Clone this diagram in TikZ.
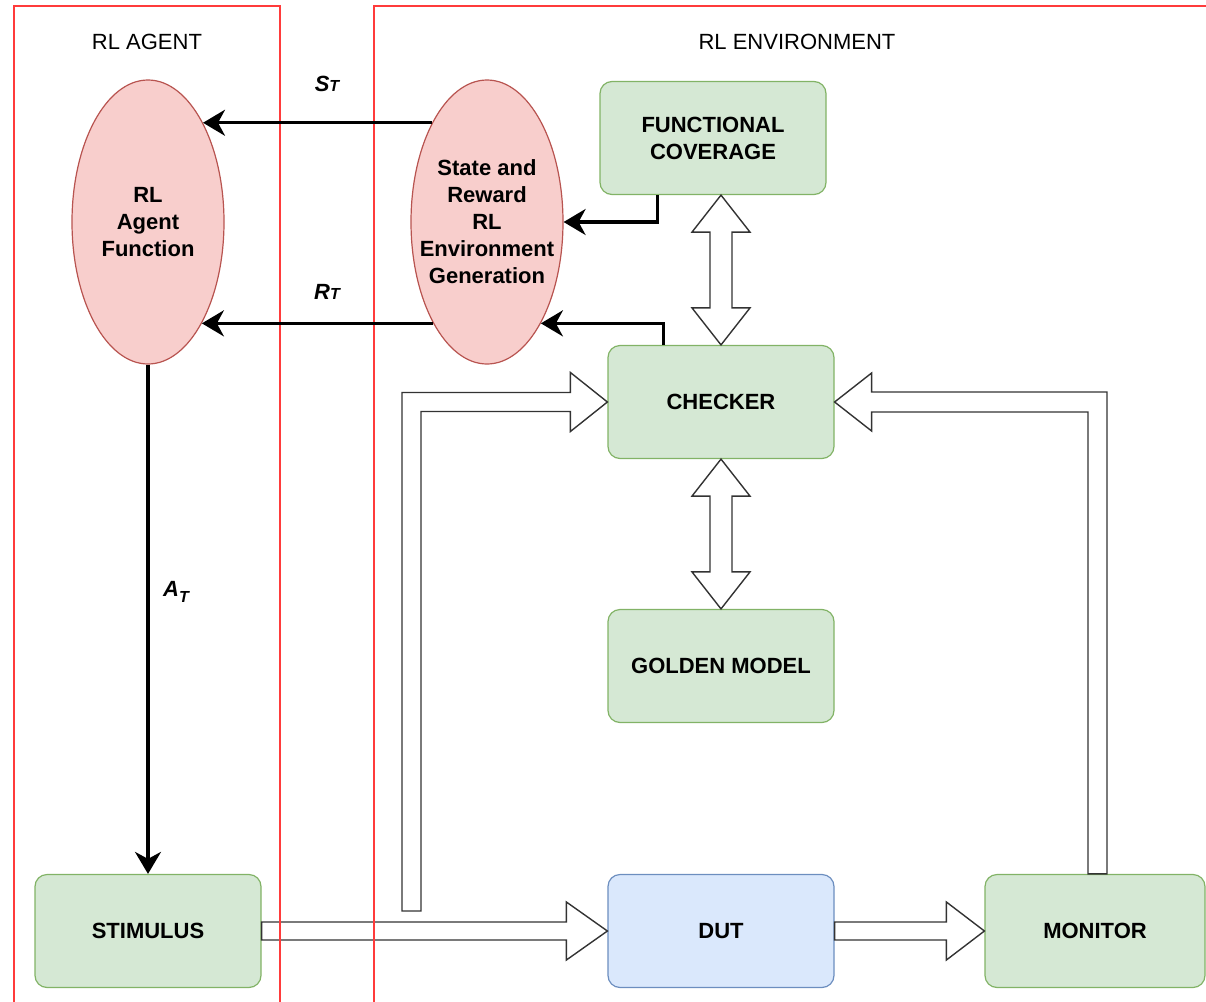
\documentclass[tikz,border=0pt]{standalone}
\usepackage{fontspec}
\setmainfont{Liberation Sans}
\usepackage{xcolor}
\usepackage{tikz}
\usetikzlibrary{calc,shapes.geometric,arrows.meta}
\definecolor{frame}{HTML}{FF3B3B}
\definecolor{okfill}{HTML}{D5E8D4}
\definecolor{okline}{HTML}{82B366}
\definecolor{dutfill}{HTML}{DAE8FC}
\definecolor{dutline}{HTML}{6C8EBF}
\definecolor{rlfill}{HTML}{F8CECC}
\definecolor{rlline}{HTML}{B85450}
\definecolor{pipeline}{HTML}{333333}

\begin{document}
\begin{tikzpicture}[x=0.5pt, y=-0.5pt,
  block/.style={draw=okline, fill=okfill, rounded corners=6pt, line width=0.6pt,
    minimum width=113pt, minimum height=56.5pt, align=center,
    font=\fontsize{11}{13.5}\selectfont\bfseries},
  dutbox/.style={draw=dutline, fill=dutfill},
  rlnode/.style={ellipse, draw=rlline, fill=rlfill, line width=0.6pt,
    minimum width=76pt, minimum height=142pt, inner sep=0pt},
  rltext/.style={align=center, font=\fontsize{11}{13.5}\selectfont\bfseries},
  title/.style={font=\fontsize{11}{13}\selectfont},
  tag/.style={font=\fontsize{11}{13}\selectfont\bfseries\itshape},
  flow/.style={line width=1.6pt, -{Stealth[length=11pt, width=13pt, inset=3.5pt]}},
  pipe/.style={draw=pipeline, fill=white, line width=0.7pt, line join=miter}]
  \useasboundingbox (0,0) rectangle (1206,1002);

  % titles
  \node[title] (agenttitle) at (147,42) {RL AGENT};
  \node[title] (envtitle) at (797,42) {RL ENVIRONMENT};

  % nodes
  \node[rlnode, label={[rltext]center:RL\\Agent\\Function}] (agent) at (148,222) {};
  \node[rlnode, label={[rltext]center:State and\\Reward\\RL\\Environment\\Generation}] (env) at (487,222) {};
  \node[block] (fc) at (713,138) {FUNCTIONAL\\COVERAGE};
  \node[block] (checker) at (721,402) {CHECKER};
  \node[block] (golden) at (721,666) {GOLDEN MODEL};
  \node[block] (stim) at (148,931) {STIMULUS};
  \node[block, dutbox] (dut) at (721,931) {DUT};
  \node[block, minimum width=110pt] (monitor) at (1095,931) {MONITOR};
  \coordinate (tap) at (411.5,911);
  \coordinate (fctip) at (checker.north |- fc.south);

  % block arrows
  \draw[pipe] ($(stim.east)+(0,-9)$) -- ($(dut.west)+(-41,-9)$) -- ++(0,-20) -- (dut.west)
    -- ++(-41,29) -- ++(0,-20) -- ($(stim.east)+(0,9)$) -- cycle;
  \draw[pipe] ($(dut.east)+(0,-9)$) -- ($(monitor.west)+(-38,-9)$) -- ++(0,-20) -- (monitor.west)
    -- ++(-38,29) -- ++(0,-20) -- ($(dut.east)+(0,9)$) -- cycle;
  \draw[pipe] (fctip) -- ++(29,37) -- ++(-18,0) -- ($(checker.north)+(11,-37)$) -- ++(18,0)
    -- (checker.north) -- ++(-29,-37) -- ++(18,0) -- ($(fctip)+(-11,37)$) -- ++(-18,0) -- cycle;
  \draw[pipe] (checker.south) -- ++(29,37) -- ++(-18,0) -- ($(golden.north)+(11,-37)$) -- ++(18,0)
    -- (golden.north) -- ++(-29,-37) -- ++(18,0) -- ($(checker.south)+(-11,37)$) -- ++(-18,0) -- cycle;
  \draw[pipe] ($(monitor.north)+(-7,0)$) |- ($(checker.east)+(37,10)$) -- ++(0,19) -- (checker.east)
    -- ++(37,-29) -- ++(0,19) -| ($(monitor.north)+(12,0)$) -- cycle;
  \draw[pipe] ($(tap)+(-9.5,0)$) |- ($(checker.west)+(-37,-9.5)$) -- ++(0,-20) -- (checker.west)
    -- ++(-37,29.5) -- ++(0,-20) -| ($(tap)+(9.5,0)$) -- cycle;

  % frames
  \draw[frame, line width=0.8pt] (14,1010) -- (14,6) -- (280,6) -- (280,1010);
  \draw[frame, line width=0.8pt] (374,1010) -- (374,6) -- (1215,6);

  % signals
  \draw[flow] (env.119) -- (agent.61);
  \draw[flow] (env.242) -- (agent.298);
  \draw[flow] (agent.south) -- (stim.north);
  \draw[flow] ($(fc.south west)+(58,0)$) |- (env.east);
  \draw[flow] ($(checker.north west)+(56,0)$) |- (env.298);
  \node[tag] (st) at (327,84) {S{\fontsize{8}{9}\selectfont T}};
  \node[tag] (rt) at (327,292) {R{\fontsize{8}{9}\selectfont T}};
  \node[tag] (at) at (176,592) {A\raisebox{-0.5ex}{\fontsize{8}{9}\selectfont T}};
\end{tikzpicture}
\end{document}
